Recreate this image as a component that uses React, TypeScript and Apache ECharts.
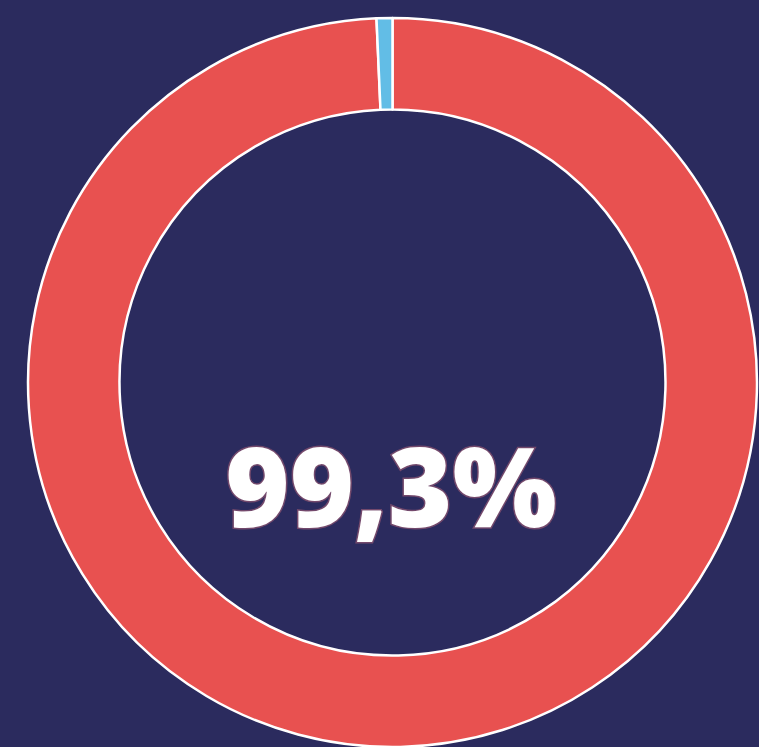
import React, { useEffect, useRef } from "react";
import * as echarts from "echarts";

const categories = ["Part principale", "Reste"];
const values = [99.3, 0.7];
const colors = ["#e85150", "#62bde6"];
const centerLabel = "99,3%";

export default function App() {
  const ref = useRef<HTMLDivElement>(null);
  useEffect(() => {
    document.body.style.margin = "0";
    const chart = echarts.init(ref.current!, null, { renderer: "svg" });
    chart.setOption({
      animation: false,
      backgroundColor: "#2b2b5e",
      series: [
        {
          type: "pie",
          center: [392.5, 382.5],
          radius: [273, 364.5],
          startAngle: 90,
          clockwise: true,
          label: { show: false },
          labelLine: { show: false },
          emphasis: { disabled: true },
          itemStyle: { borderColor: "#ffffff", borderWidth: 2.5 },
          data: categories.map((name, i) => ({
            name,
            value: values[i],
            itemStyle: { color: colors[i] },
          })),
        },
      ],
      graphic: [
        {
          type: "text",
          x: 391,
          y: 484,
          style: {
            text: centerLabel,
            fill: "#ffffff",
            font: "800 110px 'Open Sans'",
            textAlign: "center",
            textVerticalAlign: "middle",
            stroke: "rgba(225,120,130,0.4)",
            lineWidth: 3,
            shadowColor: "rgba(232,81,80,0.9)",
            shadowBlur: 6,
          },
        },
      ],
    });
    return () => chart.dispose();
  }, []);
  return <div ref={ref} style={{ width: 759, height: 747 }} />;
}
